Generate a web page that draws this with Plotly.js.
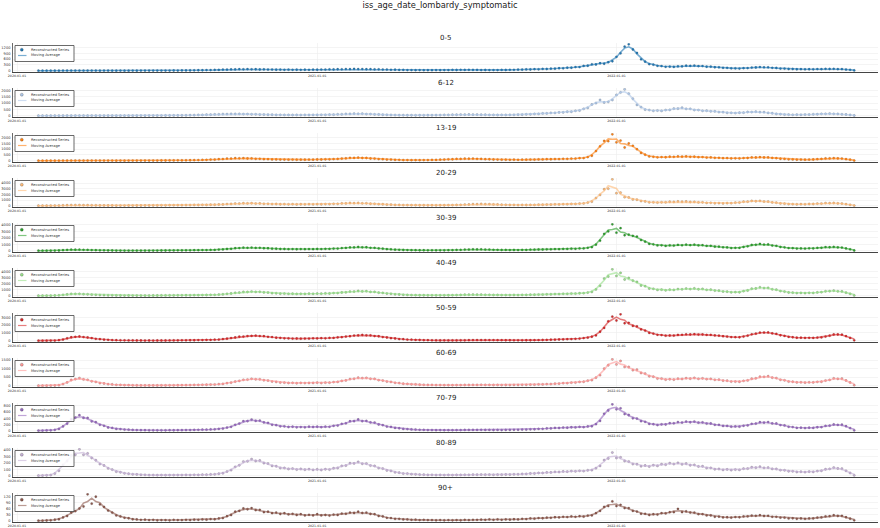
<!DOCTYPE html>
<html><head><meta charset="utf-8">
<script src="https://cdn.plot.ly/plotly-3.0.1.min.js"></script>
<style>html,body{margin:0;padding:0;background:#fff}#chart{width:880px;height:528px}</style>
</head><body><div id="chart"></div>
<script>
const CHART_TITLE = 'iss_age_date_lombardy_symptomatic';
const START_DATE = '2020-01-27';
const STEP_DAYS = 5;
const AGE_GROUPS = ['0-5','6-12','13-19','20-29','30-39','40-49','50-59','60-69','70-79','80-89','90+'];
const COLORS = ['#1f77b4','#aec7e8','#ff7f0e','#ffbb78','#2ca02c','#98df8a','#d62728','#ff9896','#9467bd','#c5b0d5','#8c564b'];
const X_TICKS = ['2020-01-01','2021-01-01','2022-01-01'];
const X_RANGE = ['2019-12-27','2022-11-16'];
const Y_DTICK = [300,500,500,1000,1000,1000,1000,500,200,100,30];
const LEGEND_LABELS = ['Reconstructed Series','Moving Average'];

const Y_0_5 = [
0,0,1,0,2,1,4,3,6,4, 6,4,5,3,4,2,3,3,1,2, 3,1,2,3,2,4,3,5,3,6, 4,7,6,9,8,12,11,15,16,22,
22,30,30,39,40,52,51,66,64,76, 71,80,70,74,62,66,55,58,49,53, 45,50,43,48,42,49,45,53,49,58, 55,66,62,74,71,84,80,90,81,86,
74,78,66,69,56,58,47,49,39,40, 33,34,28,30,25,28,24,29,26,32, 30,37,35,43,39,45,37,41,33,35, 30,34,31,37,36,45,43,53,52,64,
62,77,73,90,87,106,104,127,125,152, 152,190,190,245,255,330,320,385,360,440, 490,720,900,1250,1370,1100,920,590,470,340, 310,250,240,200,210,195,225,220,255,245,
265,235,240,205,210,178,176,148,146,122, 125,112,130,134,164,166,188,172,174,146, 140,112,108,88,88,74,78,69,75,71, 82,80,94,88,94,80,80,60,47,14];
const Y_6_12 = [
0,0,1,0,2,1,3,5,4,6, 5,6,3,5,3,4,2,3,3,1, 3,2,2,4,3,5,4,7,6,9, 9,13,13,17,17,23,27,37,43,58,
62,79,82,99,106,126,125,141,133,140, 125,130,110,110,90,89,74,73,62,65, 57,61,53,57,52,58,55,63,59,68, 67,82,84,105,110,137,139,162,151,157,
129,126,100,94,74,69,53,50,40,40, 33,35,30,34,31,37,36,44,46,58, 59,73,75,88,84,94,84,88,74,73, 61,63,55,61,57,67,66,82,84,105,
110,136,143,178,182,220,220,262,262,315, 315,390,410,545,620,890,1000,1250,1050,1100, 1250,1650,1850,2100,1750,1350,860,680,480,450, 385,410,380,450,460,565,560,630,545,545,
450,450,385,395,345,345,285,280,230,228, 205,235,240,292,288,318,283,282,220,194, 138,120,90,86,72,78,72,86,88,110, 114,146,148,168,144,136,105,94,57,15];
const Y_13_19 = [
0,0,1,1,2,3,6,7,11,11, 13,10,11,8,9,6,7,5,6,4, 6,4,7,6,9,8,11,10,13,13, 17,17,22,21,27,26,34,36,48,52,
69,72,95,100,132,144,183,188,220,206, 220,192,193,163,162,134,130,110,110,95, 99,88,94,84,92,87,96,91,104,101, 116,116,141,150,188,202,245,242,265,236,
235,192,183,144,130,100,94,74,71,57, 57,48,50,46,52,53,65,69,89,96, 120,125,152,154,178,168,180,158,157,130, 125,101,99,84,86,77,84,79,89,86,
99,96,113,110,128,125,144,139,162,158, 182,182,220,230,315,430,840,1250,1720,1700, 2300,1600,1750,1150,1500,1300,1000,680,520,370, 335,290,315,300,345,335,370,350,370,335,
345,305,312,275,282,245,250,218,224,198, 208,198,230,236,282,276,302,276,282,237, 218,168,152,116,110,92,94,87,99,102, 130,150,193,198,218,194,187,135,84,10];
const Y_20_29 = [
0,1,3,4,14,27,66,84,112,104, 110,90,84,60,56,38,37,28,30,24, 27,23,28,26,32,31,41,39,51,52, 66,66,83,81,95,90,106,104,126,124,
146,142,168,166,205,220,285,305,380,370, 430,400,430,370,390,330,335,285,295,252, 268,238,258,228,252,233,262,243,272,252, 290,275,330,328,400,400,470,440,475,410,
420,342,336,266,252,190,178,138,131,105, 105,87,89,76,79,68,73,68,79,76, 95,100,131,143,195,209,268,266,305,266, 268,214,205,162,158,128,131,114,126,119,
142,138,168,166,200,195,231,224,262,257, 305,305,380,400,545,715,1350,1900,2900,3000, 4650,2200,2300,1500,1450,1100,1050,810,750,590, 600,540,600,590,690,660,745,690,735,650,
670,572,590,494,505,428,450,400,450,437, 535,551,700,715,840,780,840,725,725,570, 525,390,357,276,273,238,262,248,294,295, 368,380,462,437,472,400,378,257,158,19];
const Y_30_39 = [
0,1,4,5,16,32,80,112,152,146, 158,128,120,88,80,55,51,35,32,23, 24,18,20,15,17,15,19,18,24,23, 30,30,38,37,48,46,58,55,74,76,
96,94,122,124,170,190,265,295,390,400, 470,450,490,430,450,380,375,305,300,258, 265,235,250,225,245,230,255,240,265,252, 282,275,325,330,405,425,510,510,570,520,
530,450,440,345,315,240,210,152,136,104, 100,80,79,64,68,55,58,52,61,59, 73,81,110,124,168,176,210,195,204,172, 168,133,131,108,113,97,106,97,113,112,
152,152,183,181,214,210,245,238,276,268, 308,296,350,355,450,540,940,1550,2600,3000, 4100,2800,3500,2400,2500,2300,2200,1650,1400,1050, 990,810,840,740,840,790,900,840,930,860,
930,820,860,740,750,630,630,515,500,410, 440,430,575,670,890,910,1050,950,980,800, 750,575,520,410,395,335,355,325,365,355, 430,450,555,535,585,510,490,345,210,28];
const Y_40_49 = [
0,2,6,9,27,56,138,210,295,285, 305,248,232,170,148,102,90,60,54,37, 34,26,27,21,21,19,23,24,30,30, 37,38,47,48,58,57,68,67,84,86,
105,110,136,144,188,220,315,365,480,520, 630,615,690,625,650,550,525,415,400,336, 345,308,325,288,315,298,335,318,355,336, 375,365,430,432,535,555,680,680,785,710,
745,630,630,500,460,355,315,232,200,144, 126,96,89,72,71,60,61,53,59,58, 71,77,105,120,158,163,189,168,173,144, 142,117,118,101,105,96,110,106,126,130,
158,158,189,192,231,231,273,270,315,308, 357,346,410,415,525,625,1050,1650,2850,3200, 4400,3300,3800,2700,2950,2500,2300,1700,1580,1200, 1150,960,1000,890,1000,960,1100,1060,1190,1100,
1210,1070,1130,980,1000,845,840,690,670,560, 590,575,755,865,1160,1200,1400,1270,1310,1060, 1000,770,680,530,505,435,460,425,470,455, 545,580,735,750,840,730,715,500,315,38];
const Y_50_59 = [
0,3,4,12,18,65,140,310,440,490, 540,470,410,330,240,200,130,115,75,62, 48,42,33,31,24,23,19,21,17,22, 21,26,27,32,34,42,44,57,58,72,
78,93,98,125,145,205,255,340,410,510, 530,600,610,650,600,580,500,460,380,350, 300,295,275,280,255,275,270,300,295,320, 310,350,360,420,450,530,570,660,680,730,
690,680,600,570,470,410,320,280,210,190, 140,125,95,88,66,62,48,47,38,40, 33,37,38,47,52,68,72,83,82,84, 72,73,62,62,55,57,50,52,50,57,
58,67,72,88,98,118,125,155,165,195, 205,245,275,340,390,510,680,1150,1650,2500, 3100,2600,3400,2250,2300,1900,1850,1450,1300,1000, 920,760,720,640,670,660,740,760,820,800,
840,790,800,740,740,680,650,570,530,460, 450,440,530,640,820,910,1040,1050,1060,940, 870,700,610,490,440,380,380,350,370,360, 400,420,530,640,800,800,780,580,360,50];
const Y_60_69 = [
0,1,3,5,12,28,96,190,335,380, 450,365,345,255,222,150,128,88,75,50, 45,32,30,22,21,16,17,14,15,14, 17,17,21,21,25,27,32,34,42,44,
53,54,65,68,90,106,148,175,242,282, 345,360,405,372,375,320,300,242,218,183, 178,158,168,144,162,154,158,160,178,154, 178,174,210,222,282,310,388,405,470,445,
460,405,398,325,302,240,220,168,152,114, 105,80,74,56,53,42,42,34,36,30, 32,28,34,33,40,40,47,46,53,46, 47,40,42,36,40,38,44,43,50,50,
59,59,73,75,92,96,115,120,147,149, 178,182,220,230,292,326,470,620,1000,1200, 1550,1250,1450,1100,1100,910,940,745,710,555, 525,420,420,355,378,355,408,393,440,412,
460,403,430,383,398,345,356,296,293,240, 240,230,283,307,408,432,525,518,555,470, 450,345,315,240,230,192,198,178,198,192, 225,230,303,336,430,400,420,305,190,28];
const Y_70_79 = [
2,3,7,11,27,57,138,225,370,420, 500,410,410,300,275,188,158,102,90,57, 51,35,32,23,21,17,16,13,13,11, 13,12,15,14,17,17,21,21,26,27,
32,32,40,43,58,67,100,124,190,228, 305,305,358,315,325,266,252,190,179,142, 142,118,126,109,116,109,126,119,126,112, 128,124,158,166,220,238,305,305,360,305,
315,265,262,200,178,133,121,90,79,57, 53,40,37,28,26,21,21,17,18,15, 17,16,19,19,23,23,26,25,27,24, 25,22,23,21,24,24,29,29,36,36,
44,46,58,59,74,74,89,86,100,95, 110,105,121,114,137,143,210,315,545,650, 850,690,720,535,505,400,390,305,285,218, 210,180,205,200,242,238,278,262,294,272,
294,258,268,228,231,190,189,152,152,128, 137,128,158,171,220,228,273,257,278,233, 231,181,168,124,116,90,95,84,95,90, 110,114,152,162,200,185,194,143,84,10];
const Y_80_89 = [
1,2,5,9,32,76,168,228,315,325, 410,325,345,275,240,180,158,114,95,62, 53,36,30,21,19,14,13,9,10,8, 9,8,9,9,10,10,11,10,13,12,
15,15,19,21,30,38,64,86,137,162, 220,224,258,228,236,195,189,152,147,119, 120,104,110,95,105,93,101,90,99,88, 100,95,116,119,152,157,194,190,215,185,
189,157,152,119,110,81,74,52,47,33, 32,24,21,17,16,12,13,10,11,9, 11,9,12,11,14,13,16,15,17,15, 16,14,16,15,18,17,21,21,26,27,
34,34,42,42,50,50,59,57,66,63, 71,67,76,71,84,86,116,152,242,267, 360,275,285,228,220,180,178,147,158,142, 163,152,179,171,194,180,200,176,189,162,
168,143,147,119,121,100,105,90,97,86, 95,90,110,110,131,124,139,122,126,105, 105,86,84,69,68,57,61,55,63,59, 71,76,100,105,126,112,110,76,42,5];
const Y_90_PLUS = [
0,0,1,2,5,7,16,23,40,47, 60,70,130,84,118,80,68,50,40,26, 21,14,12,7,6,4,5,3,4,2, 3,3,2,4,3,3,4,3,5,4,
6,5,8,7,11,13,22,28,44,48, 60,56,62,52,53,42,44,37,40,33, 37,31,34,28,32,26,29,26,32,26, 28,25,30,28,35,34,40,38,44,38,
40,33,32,23,21,14,13,9,9,6, 6,4,5,3,4,3,3,2,3,2, 3,2,3,2,4,3,4,4,5,4, 6,4,6,4,6,5,7,6,9,8,
11,10,13,12,15,14,17,16,19,18, 21,19,22,20,25,26,37,48,68,72, 95,72,78,62,62,48,45,34,34,28, 32,30,37,36,42,42,58,42,46,40,
40,32,32,26,26,19,20,16,17,15, 18,17,21,21,25,24,27,23,24,19, 19,15,15,11,12,9,11,9,11,11, 15,16,21,22,27,23,24,17,10,2];

const SERIES = [Y_0_5, Y_6_12, Y_13_19, Y_20_29, Y_30_39, Y_40_49, Y_50_59, Y_60_69, Y_70_79, Y_80_89, Y_90_PLUS];

function makeDates(n) {
  const t0 = Date.parse(START_DATE + 'T00:00:00Z');
  const out = [];
  for (let i = 0; i < n; i++) out.push(new Date(t0 + i * STEP_DAYS * 864e5).toISOString().slice(0, 10));
  return out;
}
function movingAverage(arr, w) {
  const h = Math.floor(w / 2), out = [];
  for (let i = 0; i < arr.length; i++) {
    let s = 0, c = 0;
    for (let j = i - h; j <= i + h; j++) if (j >= 0 && j < arr.length) { s += arr[j]; c++; }
    out.push(s / c);
  }
  return out;
}
function hexA(hex, a) {
  const r = parseInt(hex.slice(1,3),16), g = parseInt(hex.slice(3,5),16), b = parseInt(hex.slice(5,7),16);
  return `rgba(${r},${g},${b},${a})`;
}

const W = 880, H = 528;
const PX_LEFT = 13, PX_RIGHT = 878, PANEL_TOP0 = 43, PANEL_H = 29, PANEL_PITCH = 45;
const FONT = 'DejaVu Sans';
const px2x = p => p / W, px2y = p => 1 - p / H;

const traces = [], shapes = [], annotations = [];
const layout = {
  width: W, height: H,
  margin: {l: 0, r: 0, t: 0, b: 0},
  paper_bgcolor: '#fff', plot_bgcolor: '#fff',
  showlegend: false,
  title: {text: CHART_TITLE, x: 0.5, xanchor: 'center', y: 1 - 5 / H, yanchor: 'middle', yref: 'container',
          font: {family: FONT, size: 8.3, color: '#222'}},
  font: {family: FONT, color: '#333'},
  hovermode: false
};

SERIES.forEach((ys, k) => {
  const n = k + 1, sx = n === 1 ? '' : String(n);
  const dates = makeDates(ys.length);
  const ma = movingAverage(ys, 3);
  const col = COLORS[k];
  const top = PANEL_TOP0 + k * PANEL_PITCH, bot = top + PANEL_H;
  const M = Math.max(...ys);
  traces.push({
    type: 'scatter', mode: 'markers', x: dates, y: ys, xaxis: 'x' + sx, yaxis: 'y' + sx,
    name: LEGEND_LABELS[0],
    marker: {color: col, size: 2.3, line: {color: 'rgba(40,40,40,0.5)', width: 0.35}}
  });
  traces.push({
    type: 'scatter', mode: 'lines', x: dates, y: ma, xaxis: 'x' + sx, yaxis: 'y' + sx,
    name: LEGEND_LABELS[1],
    line: {color: hexA(col, 0.6), width: 1.6}
  });
  layout['xaxis' + sx] = {
    domain: [px2x(PX_LEFT), px2x(PX_RIGHT)], anchor: 'y' + sx, type: 'date', range: X_RANGE,
    tickmode: 'array', tickvals: X_TICKS, ticktext: X_TICKS, ticks: '',
    tickfont: {family: FONT, size: 3.2, color: '#333'},
    showgrid: true, gridcolor: '#ececec', gridwidth: 0.6,
    showline: true, linecolor: '#444', linewidth: 1.2, zeroline: false, fixedrange: true
  };
  layout['yaxis' + sx] = {
    domain: [px2y(bot), px2y(top)], anchor: 'x' + sx, range: [-0.05 * M, 1.05 * M],
    tick0: 0, dtick: Y_DTICK[k], ticks: '',
    tickfont: {family: FONT, size: 3.6, color: '#333'}, ticklabelstandoff: 1,
    showgrid: true, gridcolor: '#ececec', gridwidth: 0.6,
    showline: true, linecolor: '#444', linewidth: 0.8, zeroline: false, fixedrange: true
  };
  annotations.push({
    text: AGE_GROUPS[k], xref: 'paper', yref: 'paper', x: px2x((PX_LEFT + PX_RIGHT) / 2), y: px2y(top - 5),
    xanchor: 'center', yanchor: 'middle', showarrow: false, font: {family: FONT, size: 7, color: '#222'}
  });
  shapes.push({type: 'rect', xref: 'paper', yref: 'paper', x0: px2x(15), x1: px2x(74),
    y0: px2y(top + 18.5), y1: px2y(top + 2.5), line: {color: '#444', width: 0.8},
    fillcolor: 'rgba(255,255,255,0.85)', layer: 'above'});
  shapes.push({type: 'circle', xref: 'paper', yref: 'paper', x0: px2x(20.3), x1: px2x(23.3),
    y0: px2y(top + 8.2), y1: px2y(top + 5.2), line: {color: 'rgba(40,40,40,0.6)', width: 0.4},
    fillcolor: col, layer: 'above'});
  shapes.push({type: 'line', xref: 'paper', yref: 'paper', x0: px2x(18), x1: px2x(26.5),
    y0: px2y(top + 12.5), y1: px2y(top + 12.5), line: {color: hexA(col, 0.6), width: 1.2}, layer: 'above'});
  annotations.push({text: LEGEND_LABELS[0], xref: 'paper', yref: 'paper', x: px2x(29), y: px2y(top + 6.7),
    xanchor: 'left', yanchor: 'middle', showarrow: false, font: {family: FONT, size: 3.6, color: '#333'}});
  annotations.push({text: LEGEND_LABELS[1], xref: 'paper', yref: 'paper', x: px2x(29), y: px2y(top + 12.5),
    xanchor: 'left', yanchor: 'middle', showarrow: false, font: {family: FONT, size: 3.6, color: '#333'}});
});
layout.shapes = shapes;
layout.annotations = annotations;

Plotly.newPlot('chart', traces, layout, {staticPlot: true, displayModeBar: false});
</script></body></html>
